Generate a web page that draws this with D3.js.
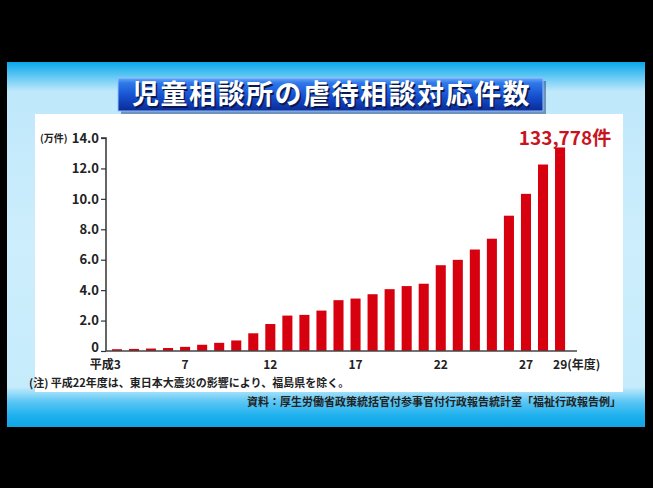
<!DOCTYPE html>
<html><head><meta charset="utf-8">
<script src="https://cdn.jsdelivr.net/npm/d3@7"></script>
<style>
html,body{margin:0;padding:0;background:#000;}
svg{display:block;}
text{font-family:"Noto Sans CJK JP","Noto Sans",sans-serif;}
</style></head>
<body>
<script>
const years = [3,4,5,6,7,8,9,10,11,12,13,14,15,16,17,18,19,20,21,22,23,24,25,26,27,28,29];
const cases = [1171,1372,1611,1961,2722,4102,5352,6932,11631,17725,23274,23738,26569,33408,34472,37323,40639,42664,44211,56384,59919,66701,73802,88931,103286,122575,133778];
const yTicks = [0,2,4,6,8,10,12,14];
const xLabelYears = [3,7,12,17,22,27,29];
const title = "児童相談所の虐待相談対応件数";
const unitLabel = "(万件)";
const peakLabel = "133,778件";
const note = "(注) 平成22年度は、東日本大震災の影響により、福島県を除く。";
const source = "資料：厚生労働省政策統括官付参事官付行政報告統計室「福祉行政報告例」";

const W = 653, H = 488;
const svg = d3.select("body").append("svg").attr("width", W).attr("height", H);
const defs = svg.append("defs");

const pg = defs.append("linearGradient").attr("id","panelG").attr("x1",0).attr("y1",0).attr("x2",0).attr("y2",1);
[[0,"#0aa6ea"],[0.03,"#4cc0f2"],[0.08,"#bfe8fb"],[0.5,"#cdeefc"],[0.89,"#c6ecfc"],[0.93,"#5cc6f4"],[0.97,"#1cb0ee"],[1,"#12a4e6"]]
  .forEach(([o,c])=>pg.append("stop").attr("offset",o).attr("stop-color",c));
const tg = defs.append("linearGradient").attr("id","titleG").attr("x1",0).attr("y1",0).attr("x2",0).attr("y2",1);
[[0,"#6aa8f6"],[0.15,"#2f79ea"],[0.55,"#1650cf"],[1,"#0a2a96"]]
  .forEach(([o,c])=>tg.append("stop").attr("offset",o).attr("stop-color",c));

// panel
svg.append("rect").attr("x",7).attr("y",62).attr("width",638).attr("height",365).attr("fill","url(#panelG)");
// white chart area
svg.append("rect").attr("x",35).attr("y",114).attr("width",588).attr("height",278).attr("fill","#ffffff");

// title box
svg.append("rect").attr("x",121).attr("y",81).attr("width",425).attr("height",33).attr("fill","#0b2a6e").attr("opacity",0.45);
svg.append("rect").attr("x",118).attr("y",78).attr("width",425).attr("height",33).attr("fill","url(#titleG)").attr("stroke","#8fc0ff").attr("stroke-width",1);
svg.append("text").attr("x",331.5).attr("y",104).attr("text-anchor","middle").attr("font-size",27).attr("font-weight","bold")
  .attr("letter-spacing",1.5).attr("fill","#0a1a50").attr("dx",1.5).attr("dy",1.5).text(title);
svg.append("text").attr("x",331.5).attr("y",104).attr("text-anchor","middle").attr("font-size",27).attr("font-weight","bold")
  .attr("letter-spacing",1.5).attr("fill","#ffffff").text(title);

// scales
const x = d3.scaleBand().domain(years).range([108.5,568.5]).paddingInner(0.41).paddingOuter(0.2);
const y = d3.scaleLinear().domain([0,14]).range([351,138]);

// bars
svg.append("g").selectAll("rect").data(years).join("rect")
  .attr("x", d=>x(d)).attr("width", x.bandwidth())
  .attr("y", (d,i)=>y(cases[i]/10000)).attr("height",(d,i)=>y(0)-y(cases[i]/10000))
  .attr("fill","#d7000f");

// y axis
const yAxis = d3.axisLeft(y).tickValues(yTicks).tickSize(5).tickPadding(2)
  .tickFormat(d=> d===0 ? "0" : d3.format(".1f")(d));
const yg = svg.append("g").attr("transform","translate(106,0)").call(yAxis);
yg.select(".domain").attr("stroke","#333").attr("stroke-width",1.5).attr("d","M-5,138H0V351");
yg.selectAll(".tick line").attr("stroke","#333").attr("stroke-width",1.2);
yg.selectAll(".tick text").attr("font-size",13).attr("font-weight","bold").attr("fill","#222")
  .attr("font-family","Liberation Sans, Arial, sans-serif");
yg.selectAll(".tick").filter(d=>d===0).select("text").attr("dy","0em");
svg.append("text").attr("x",40).attr("y",142).attr("font-size",10).attr("font-weight","bold").attr("fill","#222").text(unitLabel);

// x axis
const xAxis = d3.axisBottom(x).tickValues(xLabelYears).tickSize(0).tickPadding(9)
  .tickFormat(d=> d===3 ? "平成3" : d===29 ? "29(年度)" : String(d));
const xg = svg.append("g").attr("transform","translate(0,351)").call(xAxis);
xg.select(".domain").attr("stroke","#444").attr("stroke-width",1.5).attr("d","M106,0H577");
xg.selectAll(".tick text").attr("font-size",12).attr("font-weight","bold").attr("fill","#222")
  .attr("font-family","'Liberation Sans', 'Noto Sans CJK JP', sans-serif")
  .attr("text-anchor", d=> d===3 ? "end" : d===29 ? "start" : "middle")
  .attr("dx", d=> d===3 ? 4 : d===29 ? -7 : 0);

// peak label
svg.append("text").attr("x",565).attr("y",145).attr("text-anchor","middle").attr("font-size",19).attr("font-weight","bold")
  .attr("fill","#c8141e").text(peakLabel);

// notes
svg.append("text").attr("x",29).attr("y",387).attr("font-size",11).attr("font-weight","bold").attr("fill","#222").text(note);
svg.append("text").attr("x",621).attr("y",406).attr("text-anchor","end").attr("font-size",11).attr("font-weight","bold").attr("fill","#222").text(source);
</script>
</body></html>
